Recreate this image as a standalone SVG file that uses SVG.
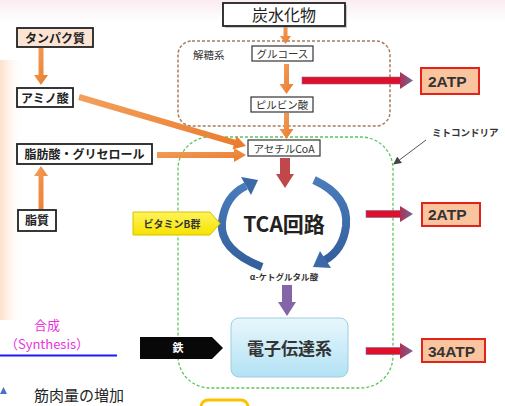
<svg xmlns="http://www.w3.org/2000/svg" width="505" height="406" viewBox="0 0 505 406">
<defs>
<style>
.jp{font-family:"Noto Sans CJK JP","Liberation Sans",sans-serif;}
.box{fill:#fff;stroke:#222;stroke-width:1.8;}
.sbox{fill:#fff;stroke:#333;stroke-width:1.2;}
.lbl{font-size:12px;font-weight:bold;fill:#222;}
.sl{font-size:10.5px;fill:#333;}
.org{fill:url(#og);}
.atp{fill:#f9c49e;stroke:#e2231a;stroke-width:2;}
.atpt{font-family:"Liberation Sans",Arial,sans-serif;font-weight:bold;font-size:15.5px;fill:#333;}
.rs{fill:#e0102a;}
.rh{fill:url(#rh);}
.cyc{fill:none;stroke:url(#bl);stroke-width:8;}
.cych{fill:#3c6aa6;}
</style>
<linearGradient id="og" x1="0" y1="0" x2="1" y2="1"><stop offset="0" stop-color="#f4a15e"/><stop offset="1" stop-color="#e97a2c"/></linearGradient>
<linearGradient id="rh" x1="0" y1="0" x2="1" y2="0"><stop offset="0" stop-color="#b03050"/><stop offset="1" stop-color="#6b6a9c"/></linearGradient>
<linearGradient id="bl" x1="0" y1="0" x2="0" y2="1"><stop offset="0" stop-color="#4a7bbb"/><stop offset="1" stop-color="#33609c"/></linearGradient>
<linearGradient id="etc" x1="0" y1="0" x2="0" y2="1"><stop offset="0" stop-color="#e8f7fc"/><stop offset="1" stop-color="#b2e2f4"/></linearGradient>
<linearGradient id="yl" x1="0" y1="0" x2="0" y2="1"><stop offset="0" stop-color="#fff45a"/><stop offset="1" stop-color="#f7e200"/></linearGradient>
<linearGradient id="top" x1="0" y1="0" x2="0" y2="1"><stop offset="0" stop-color="#fbecf1"/><stop offset="1" stop-color="#ffffff"/></linearGradient>
<linearGradient id="side" x1="0" y1="0" x2="1" y2="0"><stop offset="0" stop-color="#fde0ca"/><stop offset="1" stop-color="#ffffff" stop-opacity="0"/></linearGradient>
<marker id="thin" markerWidth="8" markerHeight="8" refX="7" refY="4" orient="auto" markerUnits="userSpaceOnUse"><path d="M0,0 L8,4 L0,8 Z" fill="#444"/></marker>
</defs>

<rect width="505" height="406" fill="#fff"/>
<rect width="505" height="22" fill="url(#top)"/>
<rect x="0" y="60" width="24" height="260" fill="url(#side)"/>

<!-- containers -->
<g id="glycolysis">
<rect x="178" y="41" width="212" height="85" rx="14" fill="none" stroke="#a87c5c" stroke-width="1.5" stroke-dasharray="3,2"/>
<text class="jp" x="193" y="59" font-size="10.5" fill="#333">解糖系</text>
</g>
<g id="mitochondria">
<rect x="178" y="137" width="215" height="251" rx="32" fill="none" stroke="#5cc55c" stroke-width="1.3" stroke-dasharray="3,2"/>
<text class="jp" x="432" y="136" font-size="9.5" font-weight="bold" fill="#333">ミトコンドリア</text>
</g>

<!-- connectors -->
<g id="connectors">
<!-- orange arrows left -->
<polygon class="org" points="38.5,48 43.5,48 43.5,75 48,75 41,85 34,75 38.5,75"/>
<polygon class="org" points="38.5,209 43.5,209 43.5,176 48,176 41,166 34,176 38.5,176"/>
<polygon class="org" points="79.8,94.1 235.4,139.7 236.5,135.9 246,146 232.5,149.3 233.7,145.5 78.2,99.9"/>
<polygon class="org" points="157,152 234,152 234,148 246,155 234,162 234,158 157,158"/>
<!-- center orange arrows -->
<polygon class="org" points="283.5,26 287.5,26 287.5,36 291,36 285.5,44 280,36 283.5,36"/>
<polygon class="org" points="284,64 289,64 289,84 293.5,84 286.5,94 279.5,84 284,84"/>
<polygon class="org" points="284,113 289,113 289,129 293.5,129 286.5,139 279.5,129 284,129"/>
<!-- acetylCoA to TCA -->
<polygon fill="#c0484a" points="280,158 290,158 290,174 294,174 285,188 276,174 280,174"/>
<!-- alpha-KG to ETC -->
<polygon fill="#8466a8" points="282,285 292,285 292,302 296,302 287,316 278,302 282,302"/>
<!-- ATP arrows -->
<rect class="rs" x="302" y="77" width="100" height="7" stroke="#7a6a9a" stroke-width="0.6"/>
<polygon class="rh" points="400,72 413,80.5 400,89"/>
<rect class="rs" x="366" y="210.5" width="36" height="7" stroke="#7a6a9a" stroke-width="0.6"/>
<polygon class="rh" points="400,206 413,214 400,222"/>
<rect class="rs" x="366" y="347.5" width="36" height="7" stroke="#7a6a9a" stroke-width="0.6"/>
<polygon class="rh" points="400,343 413,351 400,359"/>
<!-- mitochondria pointer -->
<line x1="426" y1="140" x2="394" y2="164" stroke="#555" stroke-width="1" marker-end="url(#thin)"/>
<!-- TCA cycle arrows -->
<path class="cyc" d="M262 267 Q219 250 222 222 Q225 196 246 186"/>
<polygon class="cych" points="258,180 251,195 241,177"/>
<path class="cyc" d="M314 180 Q349 196 346 226 Q343 250 325 260"/>
<polygon class="cych" points="313,267 331,268 320,251"/>
</g>

<!-- nodes -->
<g id="carb">
<rect x="225" y="5" width="122" height="23" fill="#999" opacity="0.5"/>
<rect x="223" y="3" width="122" height="23" class="box" stroke-width="1.3"/>
<text class="jp" x="284" y="21" font-size="16" text-anchor="middle" fill="#222">炭水化物</text>
</g>
<g id="glucose">
<rect x="252" y="46" width="61" height="15" class="sbox"/>
<text class="jp sl" x="282.5" y="58" text-anchor="middle">グルコース</text>
</g>
<g id="pyruvate">
<rect x="251" y="97" width="62" height="15" class="sbox"/>
<text class="jp sl" x="282" y="109" text-anchor="middle">ピルビン酸</text>
</g>
<g id="acetylcoa">
<rect x="248" y="140" width="72" height="16" class="sbox"/>
<text class="jp sl" x="284" y="152.5" text-anchor="middle">アセチルCoA</text>
</g>
<g id="protein">
<rect x="17" y="28" width="76" height="19" class="box" style="fill:#fbe4d4"/>
<text class="jp lbl" x="55" y="42.5" text-anchor="middle">タンパク質</text>
</g>
<g id="amino">
<rect x="17" y="88" width="56" height="19" class="box"/>
<text class="jp lbl" x="45" y="102.5" text-anchor="middle">アミノ酸</text>
</g>
<g id="fattyacid">
<rect x="17" y="144" width="135" height="20" class="box"/>
<text class="jp lbl" x="84.5" y="159" text-anchor="middle">脂肪酸・グリセロール</text>
</g>
<g id="lipid">
<rect x="18" y="210" width="38" height="21" class="box"/>
<text class="jp lbl" x="37" y="225" text-anchor="middle">脂質</text>
</g>
<g id="tca">
<text class="jp" x="284" y="232" font-size="21" font-weight="bold" text-anchor="middle" fill="#222">TCA回路</text>
</g>
<g id="akg">
<text class="jp" x="284" y="280" font-size="8.5" font-weight="bold" text-anchor="middle" fill="#333">α-ケトグルタル酸</text>
</g>
<g id="etc-node">
<rect x="231" y="318" width="117" height="59" rx="8" fill="url(#etc)" stroke="#9dcde0" stroke-width="1"/>
<text class="jp" x="289.5" y="355" font-size="17" font-weight="bold" text-anchor="middle" fill="#333">電子伝達系</text>
</g>
<g id="vitb">
<polygon points="133,212 210,212 220,223.5 210,235 133,235" fill="url(#yl)" stroke="#d8c000" stroke-width="1"/>
<text class="jp" x="172" y="227.5" font-size="10" font-weight="bold" text-anchor="middle" fill="#333">ビタミンB群</text>
</g>
<g id="iron">
<polygon points="140,337 212,337 223,348 212,359 140,359" fill="#080808"/>
<text class="jp" x="178" y="352" font-size="11" font-weight="bold" text-anchor="middle" fill="#fff">鉄</text>
</g>
<g id="atp1">
<rect x="421" y="68" width="58" height="26" class="atp"/>
<text class="atpt" x="428" y="86.5">2ATP</text>
</g>
<g id="atp2">
<rect x="422" y="203" width="58" height="23" class="atp"/>
<text class="atpt" x="428" y="220">2ATP</text>
</g>
<g id="atp3">
<rect x="422" y="339" width="63" height="23" class="atp"/>
<text class="atpt" x="428" y="356.5">34ATP</text>
</g>

<!-- bottom-left partial panel -->
<g id="synthesis">
<text class="jp" x="47" y="330" font-size="13" text-anchor="middle" fill="#e832e0">合成</text>
<text class="jp" x="47" y="349" font-size="13" text-anchor="middle" fill="#e832e0">（Synthesis）</text>
<line x1="0" y1="355.5" x2="117" y2="355.5" stroke="#1a1aff" stroke-width="2"/>
<polygon points="0,394 3.5,387 7,394" fill="#4472c4"/>
<text class="jp" x="34" y="401" font-size="15" fill="#222">筋肉量の増加</text>
</g>
<g id="yellowbox">
<rect x="201" y="400" width="47" height="20" rx="7" fill="#fff" stroke="#ffc000" stroke-width="3"/>
</g>
</svg>
